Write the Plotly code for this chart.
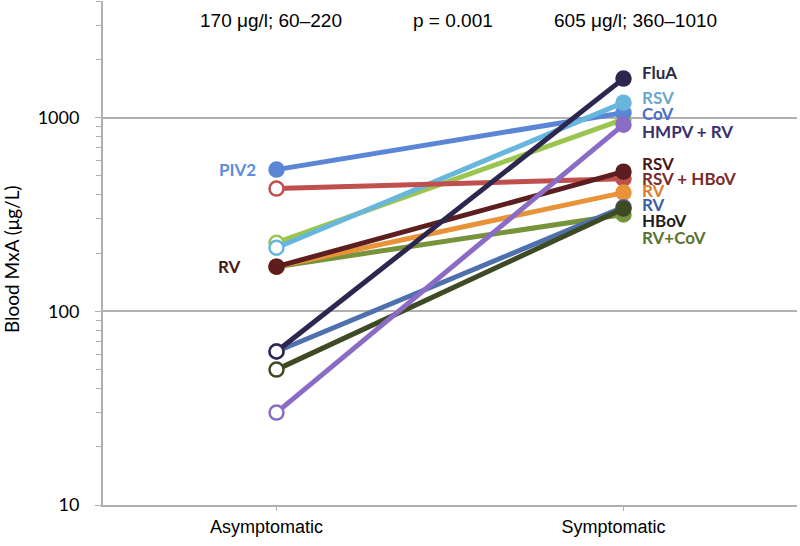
import math
import plotly.graph_objects as go

# ---- data ----
categories = ["Asymptomatic", "Symptomatic"]

series_names = ["RV+CoV", "HMPV+RV (2)", "CoV", "RSV", "RSV + HBoV", "RV", "RSV (RV)",
                "RV (blue)", "HBoV", "HMPV + RV", "FluA"]
asymptomatic = [170, 226, 539, 213, 430, 170, 170, 62, 50, 30, 62]
symptomatic = [316, 980, 1060, 1195, 484, 410, 526, 345, 339, 920, 1590]
line_colors = ["#77933c", "#9bc551", "#5a86d5", "#67b6dc", "#c0504d", "#e8923a",
               "#5c1e1e", "#4f70ae", "#3d4a24", "#8a6cc4", "#2d2750"]
left_filled = [True, False, True, False, False, True, True, False, False, False, False]

right_labels = ["FluA", "RSV", "CoV", "HMPV + RV", "RSV", "RSV + HBoV", "RV", "RV", "HBoV", "RV+CoV"]
right_label_y = [1709, 1269, 1049, 846, 578, 484, 419, 355, 294, 240]
right_label_colors = ["#2b2a4c", "#6aa8cf", "#4a6fc9", "#3c2f6c", "#4a1818", "#7b2b2b",
                      "#e07b2e", "#3c5fa8", "#1e1e1e", "#5b7331"]

left_labels = ["PIV2", "RV"]
left_label_y = [539, 170]
left_label_colors = ["#5b8de0", "#4a1a1a"]
left_label_shift = [-19, -34]

top_texts = ["170 μg/l; 60–220", "p = 0.001", "605 μg/l; 360–1010"]
top_text_x = [-0.016, 0.51, 1.036]

y_major = [10, 100, 1000]
y_minor = [20, 30, 40, 50, 60, 70, 80, 90, 200, 300, 400, 500, 600, 700, 800, 900,
           2000, 3000, 4000]

fig = go.Figure()
for i, name in enumerate(series_names):
    c = line_colors[i]
    fig.add_trace(go.Scatter(
        x=categories, y=[asymptomatic[i], symptomatic[i]], mode="lines+markers",
        name=name, showlegend=False,
        line=dict(color=c, width=5),
        marker=dict(size=14, color=[c if left_filled[i] else "white", c],
                    line=dict(color=c, width=2.5)),
    ))

ann = []
for t, y, col in zip(right_labels, right_label_y, right_label_colors):
    ann.append(dict(x="Symptomatic", y=math.log10(y), xref="x", yref="y", text=t,
                    showarrow=False, xanchor="left", yanchor="middle", xshift=16,
                    font=dict(family="Lato", size=17, color=col, weight="bold")))
for t, y, col, s in zip(left_labels, left_label_y, left_label_colors, left_label_shift):
    ann.append(dict(x="Asymptomatic", y=math.log10(y), xref="x", yref="y", text=t,
                    showarrow=False, xanchor="right", yanchor="middle", xshift=s,
                    font=dict(family="Lato", size=17, color=col, weight="bold")))
for t, x in zip(top_texts, top_text_x):
    ann.append(dict(x=x, y=0.962, xref="x", yref="paper", text=t, showarrow=False,
                    xanchor="center", yanchor="middle",
                    font=dict(family="Liberation Sans", size=19, color="black")))
ann.append(dict(x=-0.1326, y=0.488, xref="paper", yref="paper", text="Blood MxA (μg/L)",
                textangle=-90, showarrow=False, xanchor="center", yanchor="middle",
                font=dict(family="Lato", size=19, color="black")))

grid = "#b0b0b0"
fig.update_layout(
    width=800, height=546, margin=dict(l=103, r=3, t=1, b=41, autoexpand=False),
    paper_bgcolor="white", plot_bgcolor="white",
    annotations=ann,
    xaxis=dict(type="category", range=[-0.5, 1.5], showgrid=False, automargin=False,
               showline=True, linecolor=grid, linewidth=2,
               ticks="outside", ticklen=4, tickcolor=grid, tickwidth=1,
               ticklabelshift=-10,
               tickfont=dict(family="Liberation Sans", size=18, color="black")),
    yaxis=dict(type="log", range=[1, math.log10(4000)], automargin=False,
               tickmode="array", tickvals=y_major, ticktext=[str(v) for v in y_major],
               showgrid=True, gridcolor=grid, gridwidth=2,
               showline=True, linecolor=grid, linewidth=2,
               ticks="outside", ticklen=6, tickcolor=grid, tickwidth=1,
               ticklabelstandoff=12,
               minor=dict(tickmode="array", tickvals=y_minor, ticks="outside",
                          ticklen=5, tickcolor=grid, tickwidth=1, showgrid=False),
               tickfont=dict(family="Lato", size=18, color="black"),
               zeroline=False),
)

fig.write_html("out.html", config={"displayModeBar": False},
               post_script="document.body.style.margin='0';")
